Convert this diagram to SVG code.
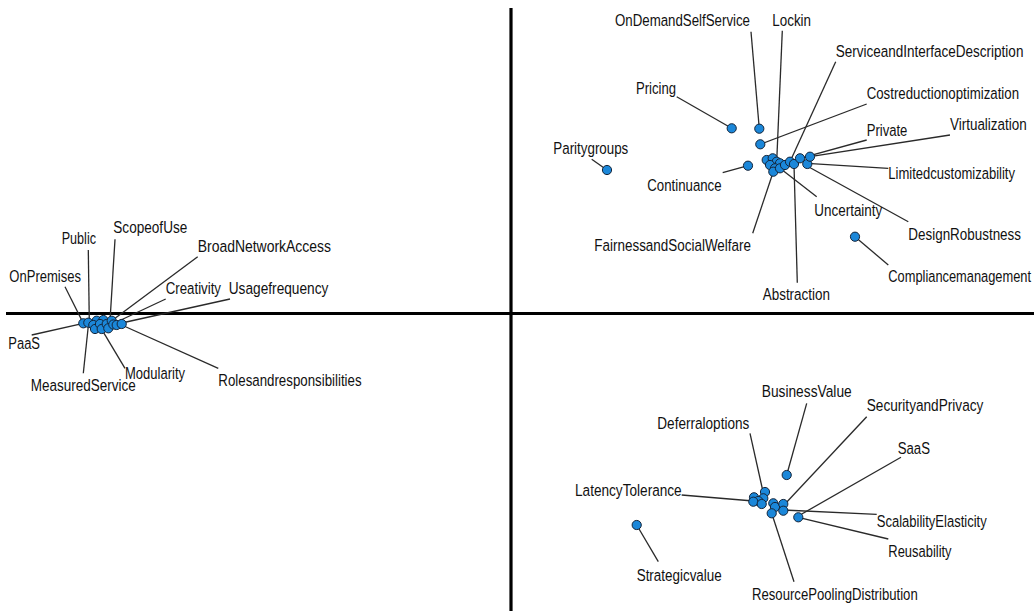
<svg xmlns="http://www.w3.org/2000/svg" width="1034" height="611" viewBox="0 0 1034 611">
<style>
.axis{stroke:#000;stroke-width:3.2;fill:none}
.ld{stroke:#2a2a2a;stroke-width:1.3;fill:none}
.dot{fill:#1b87d9;stroke:#14253a;stroke-width:1}
text{font-family:"Liberation Sans",Arial,sans-serif;font-size:13px;fill:#111}
</style>
<rect width="1034" height="611" fill="#fff"/>
<g id="axes">
<line class="axis" x1="511" y1="8" x2="511" y2="611"/>
<line class="axis" x1="6" y1="313.5" x2="1034" y2="313.5"/>
</g>
<g id="connectors">
<line class="ld" x1="676.7" y1="96.7" x2="731.7" y2="128.3"/>
<line class="ld" x1="751" y1="31.7" x2="759.3" y2="128.7"/>
<line class="ld" x1="866.7" y1="104" x2="760.3" y2="144.3"/>
<line class="ld" x1="722.7" y1="172.7" x2="748" y2="165.7"/>
<line class="ld" x1="591.7" y1="159.3" x2="607" y2="170"/>
<line class="ld" x1="782.3" y1="30.7" x2="776.7" y2="161.7"/>
<line class="ld" x1="835.7" y1="61.7" x2="790" y2="161.7"/>
<line class="ld" x1="866.7" y1="140" x2="800" y2="158.3"/>
<line class="ld" x1="950" y1="135" x2="810" y2="156.7"/>
<line class="ld" x1="888.3" y1="168.3" x2="807.3" y2="163.3"/>
<line class="ld" x1="816.7" y1="196.7" x2="780" y2="168.3"/>
<line class="ld" x1="908.3" y1="221.7" x2="807" y2="166"/>
<line class="ld" x1="888.3" y1="265" x2="855" y2="236.7"/>
<line class="ld" x1="797.3" y1="282.7" x2="794" y2="165"/>
<line class="ld" x1="752.7" y1="233.3" x2="773.3" y2="171.7"/>
<line class="ld" x1="88.3" y1="250" x2="89.3" y2="322"/>
<line class="ld" x1="115" y1="239.3" x2="110" y2="321"/>
<line class="ld" x1="197.7" y1="256.7" x2="111.7" y2="320.7"/>
<line class="ld" x1="65" y1="286.7" x2="83.3" y2="323.3"/>
<line class="ld" x1="165.7" y1="299" x2="116.7" y2="322"/>
<line class="ld" x1="230" y1="299" x2="121.7" y2="323"/>
<line class="ld" x1="31.7" y1="335" x2="83.3" y2="323.3"/>
<line class="ld" x1="83.3" y1="373.3" x2="88.3" y2="326"/>
<line class="ld" x1="125" y1="368.3" x2="101.7" y2="329.3"/>
<line class="ld" x1="218.3" y1="368.3" x2="121.7" y2="325"/>
<line class="ld" x1="806.7" y1="403.3" x2="786.7" y2="475"/>
<line class="ld" x1="866.7" y1="416.7" x2="784" y2="505"/>
<line class="ld" x1="750" y1="433.3" x2="763.3" y2="493"/>
<line class="ld" x1="901" y1="457.3" x2="798.3" y2="516"/>
<line class="ld" x1="681.7" y1="495" x2="753.3" y2="501"/>
<line class="ld" x1="876.7" y1="514.3" x2="783.3" y2="510"/>
<line class="ld" x1="888.3" y1="539" x2="798.3" y2="517.3"/>
<line class="ld" x1="658.3" y1="561.7" x2="636.7" y2="525"/>
<line class="ld" x1="794" y1="581.7" x2="771.7" y2="513.3"/>
</g>
<g id="cluster-top-right">
<circle class="dot" cx="766.7" cy="160" r="4.6"/>
<circle class="dot" cx="772.7" cy="158.3" r="4.6"/>
<circle class="dot" cx="776.7" cy="161.7" r="4.6"/>
<circle class="dot" cx="770" cy="165" r="4.6"/>
<circle class="dot" cx="780" cy="163.3" r="4.6"/>
<circle class="dot" cx="775" cy="168.3" r="4.6"/>
<circle class="dot" cx="773.3" cy="171.7" r="4.6"/>
<circle class="dot" cx="780" cy="168.3" r="4.6"/>
<circle class="dot" cx="785" cy="165" r="4.6"/>
<circle class="dot" cx="790" cy="161.7" r="4.6"/>
<circle class="dot" cx="794" cy="164" r="4.6"/>
<circle class="dot" cx="800" cy="158.3" r="4.6"/>
<circle class="dot" cx="807.3" cy="164" r="4.6"/>
<circle class="dot" cx="810" cy="156.7" r="4.6"/>
</g>
<g id="cluster-left">
<circle class="dot" cx="83.3" cy="323.3" r="4.6"/>
<circle class="dot" cx="88.3" cy="322.7" r="4.6"/>
<circle class="dot" cx="96.7" cy="320.7" r="4.6"/>
<circle class="dot" cx="93.3" cy="325" r="4.6"/>
<circle class="dot" cx="95" cy="329" r="4.6"/>
<circle class="dot" cx="103.3" cy="320" r="4.6"/>
<circle class="dot" cx="100" cy="324" r="4.6"/>
<circle class="dot" cx="101.7" cy="329" r="4.6"/>
<circle class="dot" cx="106.7" cy="324" r="4.6"/>
<circle class="dot" cx="111.7" cy="320.7" r="4.6"/>
<circle class="dot" cx="108.3" cy="328.3" r="4.6"/>
<circle class="dot" cx="113.3" cy="324.5" r="4.6"/>
<circle class="dot" cx="116.7" cy="325" r="4.6"/>
<circle class="dot" cx="121.7" cy="324" r="4.6"/>
</g>
<g id="cluster-bottom-right">
<circle class="dot" cx="765" cy="492" r="4.6"/>
<circle class="dot" cx="754" cy="497.3" r="4.6"/>
<circle class="dot" cx="763.3" cy="498.3" r="4.6"/>
<circle class="dot" cx="758.3" cy="501" r="4.6"/>
<circle class="dot" cx="753.3" cy="501.7" r="4.6"/>
<circle class="dot" cx="761.7" cy="504" r="4.6"/>
<circle class="dot" cx="773.3" cy="503.3" r="4.6"/>
<circle class="dot" cx="775" cy="507" r="4.6"/>
<circle class="dot" cx="771.7" cy="513.3" r="4.6"/>
<circle class="dot" cx="783.3" cy="504" r="4.6"/>
<circle class="dot" cx="783.3" cy="510.7" r="4.6"/>
<circle class="dot" cx="798.3" cy="517.3" r="4.6"/>
</g>
<g id="n-pricing"><circle class="dot" cx="731.7" cy="128.3" r="4.6"/><text transform="matrix(1 0 0 1.3 636 94.3)" textLength="40" lengthAdjust="spacingAndGlyphs">Pricing</text></g>
<g id="n-ondemandselfservice"><circle class="dot" cx="759.3" cy="128.7" r="4.6"/><text transform="matrix(1 0 0 1.3 615 25.7)" textLength="135" lengthAdjust="spacingAndGlyphs">OnDemandSelfService</text></g>
<g id="n-costreduction"><circle class="dot" cx="760.3" cy="144.3" r="4.6"/><text transform="matrix(1 0 0 1.3 866.7 99)" textLength="152.3" lengthAdjust="spacingAndGlyphs">Costreductionoptimization</text></g>
<g id="n-continuance"><circle class="dot" cx="748" cy="165.7" r="4.6"/><text transform="matrix(1 0 0 1.3 647.3 190.7)" textLength="74.3" lengthAdjust="spacingAndGlyphs">Continuance</text></g>
<g id="n-paritygroups"><circle class="dot" cx="607" cy="170" r="4.6"/><text transform="matrix(1 0 0 1.3 553.3 154)" textLength="75" lengthAdjust="spacingAndGlyphs">Paritygroups</text></g>
<g id="n-lockin"><text transform="matrix(1 0 0 1.3 772.3 25.7)" textLength="38.7" lengthAdjust="spacingAndGlyphs">Lockin</text></g>
<g id="n-serviceinterface"><text transform="matrix(1 0 0 1.3 835.7 56.7)" textLength="187.7" lengthAdjust="spacingAndGlyphs">ServiceandInterfaceDescription</text></g>
<g id="n-private"><text transform="matrix(1 0 0 1.3 866.7 136)" textLength="40.7" lengthAdjust="spacingAndGlyphs">Private</text></g>
<g id="n-virtualization"><text transform="matrix(1 0 0 1.3 950 130)" textLength="76.7" lengthAdjust="spacingAndGlyphs">Virtualization</text></g>
<g id="n-limitedcustomizability"><text transform="matrix(1 0 0 1.3 888.3 179)" textLength="126.7" lengthAdjust="spacingAndGlyphs">Limitedcustomizability</text></g>
<g id="n-uncertainty"><text transform="matrix(1 0 0 1.3 814.3 216)" textLength="68" lengthAdjust="spacingAndGlyphs">Uncertainty</text></g>
<g id="n-designrobustness"><text transform="matrix(1 0 0 1.3 908.3 240)" textLength="112.7" lengthAdjust="spacingAndGlyphs">DesignRobustness</text></g>
<g id="n-compliancemanagement"><circle class="dot" cx="855" cy="236.7" r="4.6"/><text transform="matrix(1 0 0 1.3 888.3 281.7)" textLength="142.7" lengthAdjust="spacingAndGlyphs">Compliancemanagement</text></g>
<g id="n-abstraction"><text transform="matrix(1 0 0 1.3 762.7 300)" textLength="67.3" lengthAdjust="spacingAndGlyphs">Abstraction</text></g>
<g id="n-fairness"><text transform="matrix(1 0 0 1.3 594.3 250.7)" textLength="156.7" lengthAdjust="spacingAndGlyphs">FairnessandSocialWelfare</text></g>
<g id="n-public"><text transform="matrix(1 0 0 1.3 61.7 244.3)" textLength="34.3" lengthAdjust="spacingAndGlyphs">Public</text></g>
<g id="n-scopeofuse"><text transform="matrix(1 0 0 1.3 113.3 233.3)" textLength="74" lengthAdjust="spacingAndGlyphs">ScopeofUse</text></g>
<g id="n-broadnetworkaccess"><text transform="matrix(1 0 0 1.3 197.7 251.7)" textLength="133.3" lengthAdjust="spacingAndGlyphs">BroadNetworkAccess</text></g>
<g id="n-onpremises"><text transform="matrix(1 0 0 1.3 9.3 281.7)" textLength="71.7" lengthAdjust="spacingAndGlyphs">OnPremises</text></g>
<g id="n-creativity"><text transform="matrix(1 0 0 1.3 165.7 294.3)" textLength="55.3" lengthAdjust="spacingAndGlyphs">Creativity</text></g>
<g id="n-usagefrequency"><text transform="matrix(1 0 0 1.3 228.7 294.3)" textLength="99.7" lengthAdjust="spacingAndGlyphs">Usagefrequency</text></g>
<g id="n-paas"><text transform="matrix(1 0 0 1.3 8.3 349)" textLength="31.7" lengthAdjust="spacingAndGlyphs">PaaS</text></g>
<g id="n-measuredservice"><text transform="matrix(1 0 0 1.3 30.7 390.7)" textLength="105" lengthAdjust="spacingAndGlyphs">MeasuredService</text></g>
<g id="n-modularity"><text transform="matrix(1 0 0 1.3 125 379)" textLength="60" lengthAdjust="spacingAndGlyphs">Modularity</text></g>
<g id="n-roles"><text transform="matrix(1 0 0 1.3 218.3 386)" textLength="143.3" lengthAdjust="spacingAndGlyphs">Rolesandresponsibilities</text></g>
<g id="n-businessvalue"><circle class="dot" cx="786.7" cy="475" r="4.6"/><text transform="matrix(1 0 0 1.3 761.7 397.3)" textLength="90" lengthAdjust="spacingAndGlyphs">BusinessValue</text></g>
<g id="n-securityprivacy"><text transform="matrix(1 0 0 1.3 866.7 410.7)" textLength="116.7" lengthAdjust="spacingAndGlyphs">SecurityandPrivacy</text></g>
<g id="n-deferraloptions"><text transform="matrix(1 0 0 1.3 657.3 429)" textLength="92" lengthAdjust="spacingAndGlyphs">Deferraloptions</text></g>
<g id="n-saas"><text transform="matrix(1 0 0 1.3 897.7 454)" textLength="32.3" lengthAdjust="spacingAndGlyphs">SaaS</text></g>
<g id="n-latencytolerance"><text transform="matrix(1 0 0 1.3 575 495.7)" textLength="106.7" lengthAdjust="spacingAndGlyphs">LatencyTolerance</text></g>
<g id="n-scalability"><text transform="matrix(1 0 0 1.3 876.7 526.7)" textLength="110" lengthAdjust="spacingAndGlyphs">ScalabilityElasticity</text></g>
<g id="n-reusability"><text transform="matrix(1 0 0 1.3 888.3 557.3)" textLength="63.3" lengthAdjust="spacingAndGlyphs">Reusability</text></g>
<g id="n-strategicvalue"><circle class="dot" cx="636.7" cy="525" r="4.6"/><text transform="matrix(1 0 0 1.3 636.7 581)" textLength="85" lengthAdjust="spacingAndGlyphs">Strategicvalue</text></g>
<g id="n-resourcepooling"><text transform="matrix(1 0 0 1.3 752 600)" textLength="165.7" lengthAdjust="spacingAndGlyphs">ResourcePoolingDistribution</text></g>
</svg>
